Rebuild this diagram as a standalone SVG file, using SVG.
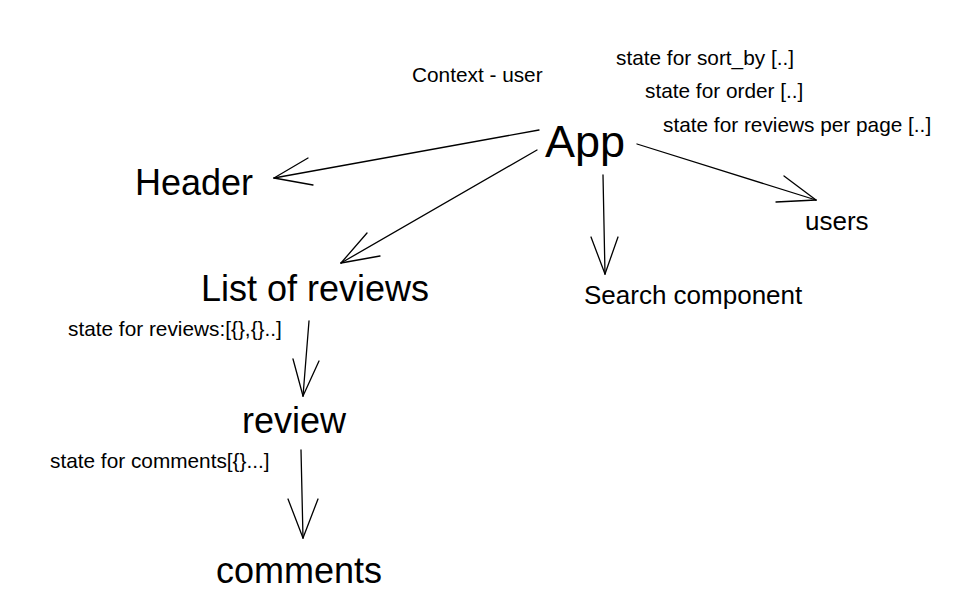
<svg xmlns="http://www.w3.org/2000/svg" width="967" height="613" viewBox="0 0 967 613">
<style>
text { font-family: "Liberation Sans", Arial, sans-serif; fill: #000; }
.big { font-size: 36px; }
.app { font-size: 45px; }
.mid { font-size: 26px; }
.small { font-size: 20.8px; }
.conn line { stroke: #000; stroke-width: 1.3; stroke-linecap: round; }
</style>
<rect width="967" height="613" fill="#fff"/>
<g id="connectors" class="conn">
  <line x1="539" y1="130" x2="274" y2="178"/>
  <line x1="274" y1="178" x2="308" y2="158"/>
  <line x1="274" y1="178" x2="313" y2="185"/>
  <line x1="537" y1="150" x2="341" y2="263"/>
  <line x1="341" y1="263" x2="367" y2="233"/>
  <line x1="341" y1="263" x2="380" y2="256"/>
  <line x1="637" y1="144" x2="816" y2="200"/>
  <line x1="816" y1="200" x2="784" y2="176"/>
  <line x1="816" y1="200" x2="776" y2="202"/>
  <line x1="603" y1="175" x2="605" y2="274"/>
  <line x1="605" y1="274" x2="591" y2="237"/>
  <line x1="605" y1="274" x2="618" y2="237"/>
  <line x1="309" y1="321" x2="303" y2="396"/>
  <line x1="303" y1="396" x2="293" y2="359"/>
  <line x1="303" y1="396" x2="319" y2="361"/>
  <line x1="301" y1="450" x2="303" y2="538"/>
  <line x1="303" y1="538" x2="288" y2="499"/>
  <line x1="303" y1="538" x2="318" y2="499"/>
</g>
<g id="app">
  <text class="app" x="545" y="157">App</text>
  <text class="small" x="412" y="82">Context - user</text>
  <text class="small" x="616" y="65">state for sort_by [..]</text>
  <text class="small" x="645" y="98">state for order [..]</text>
  <text class="small" x="663" y="132">state for reviews per page [..]</text>
</g>
<g id="header">
  <text class="big" x="135" y="195">Header</text>
</g>
<g id="list-of-reviews">
  <text class="big" x="201" y="301">List of reviews</text>
  <text class="small" x="68" y="336">state for reviews:[{},{}..]</text>
</g>
<g id="search">
  <text class="mid" x="584" y="304">Search component</text>
</g>
<g id="users">
  <text class="mid" x="805" y="230">users</text>
</g>
<g id="review">
  <text class="big" x="242" y="433">review</text>
  <text class="small" x="50" y="468">state for comments[{}...]</text>
</g>
<g id="comments">
  <text class="big" x="216" y="583">comments</text>
</g>
</svg>
